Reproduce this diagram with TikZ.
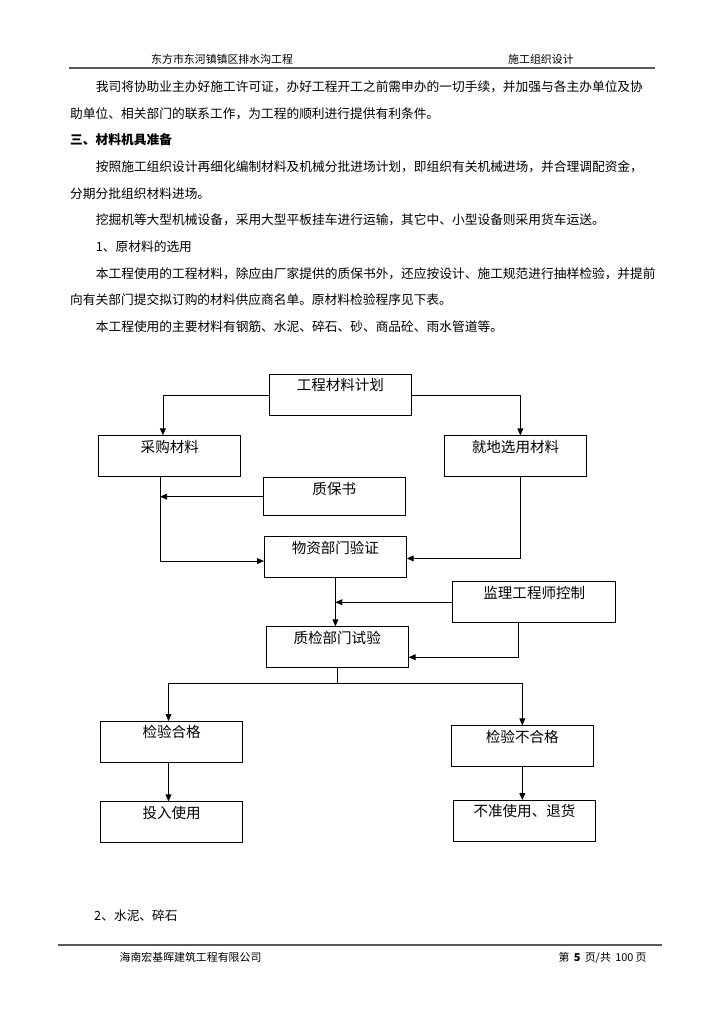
\documentclass[tikz,border=0pt]{standalone}
\usepackage{fontspec}
\setmainfont{Noto Sans CJK SC}
\usetikzlibrary{arrows.meta}
\tikzset{
  stepbox/.style={draw, line width=0.7pt, anchor=north, minimum width=41.2mm,
    inner xsep=0pt, inner ysep=0pt, text height=4.8mm, text depth=7.1mm,
    font=\fontsize{12pt}{14pt}\selectfont},
  flow/.style={draw, line width=0.6pt, -{Triangle[length=2mm,width=1.7mm]}},
  bodytxt/.style={anchor=west, inner sep=0pt, text height=0.88em, text depth=0.12em,
    font=\fontsize{10.5pt}{12pt}\selectfont},
  smalltxt/.style={anchor=west, inner sep=0pt, text height=0.88em, text depth=0.12em,
    font=\fontsize{9pt}{11pt}\selectfont},
  rule/.style={draw=black!65, line width=1.2pt}
}
\begin{document}
\begin{tikzpicture}[x=0.29006mm, y=-0.29006mm]
\useasboundingbox (0,0) rectangle (724,1024);

\node[smalltxt] (hleft) at (151,59.3) {东方市东河镇镇区排水沟工程};
\node[smalltxt] (hright) at (508,59.3) {施工组织设计};
\draw[rule] (69,68) -- (655,68);

\foreach \yy/\xx/\txt in {
  86.7/95.6/{我司将协助业主办好施工许可证，办好工程开工之前需申办的一切手续，并加强与各主办单位及协},
  113.4/70/{助单位、相关部门的联系工作，为工程的顺利进行提供有利条件。},
  140/70/{\textbf{三、材料机具准备}},
  166.7/95.6/{按照施工组织设计再细化编制材料及机械分批进场计划，即组织有关机械进场，并合理调配资金，},
  193.4/70/{分期分批组织材料进场。},
  220/95.6/{挖掘机等大型机械设备，采用大型平板挂车进行运输，其它中、小型设备则采用货车运送。},
  246.7/95.6/{1、原材料的选用},
  273.4/95.6/{本工程使用的工程材料，除应由厂家提供的质保书外，还应按设计、施工规范进行抽样检验，并提前},
  300/70/{向有关部门提交拟订购的材料供应商名单。原材料检验程序见下表。},
  326.7/95.6/{本工程使用的主要材料有钢筋、水泥、碎石、砂、商品砼、雨水管道等。},
  916/94/{2、水泥、碎石}} {
  \node[bodytxt] at (\xx,\yy) {\txt};
}

\node[stepbox] (plan) at (340.4,374) {工程材料计划};
\node[stepbox] (buy) at (169.8,435.3) {采购材料};
\node[stepbox] (local) at (515.5,435.3) {就地选用材料};
\node[stepbox, text depth=6.2mm] (cert) at (334.3,477.3) {质保书};
\node[stepbox] (wz) at (335.4,536.3) {物资部门验证};
\node[stepbox, minimum width=47.3mm] (jl) at (534.3,581.3) {监理工程师控制};
\node[stepbox] (zj) at (337.2,626.3) {质检部门试验};
\node[stepbox] (ok) at (171.6,721) {检验合格};
\node[stepbox] (fail) at (522.3,725.3) {检验不合格};
\node[stepbox] (use) at (171.6,801.3) {投入使用};
\node[stepbox] (ret) at (524.5,800) {不准使用、退货};

\coordinate (b1) at ([xshift=-2.8mm]buy.south);
\coordinate (j) at ([yshift=-4.4mm]zj.south);

\draw[flow] (plan.west) -| ([xshift=-2mm]buy.north);
\draw[flow] (plan.east) -| ([xshift=1.4mm]local.north);
\draw[flow] (b1) |- ([yshift=-1.1mm]wz.west);
\draw[flow] (cert.west) -- (cert.west -| b1);
\draw[flow] ([xshift=1.4mm]local.south) |- ([yshift=-0.35mm]wz.east);
\draw[flow] (wz.south) -- (wz.south |- zj.north);
\draw[flow] (jl.west) -- (jl.west -| wz.south);
\draw[flow] ([xshift=-4.5mm]jl.south) |- ([yshift=-2.9mm]zj.east);
\draw[line width=0.6pt] (zj.south) -- (j);
\draw[flow] (j) -| ([xshift=-0.9mm]ok.north);
\draw[flow] (j) -| (fail.north);
\draw[flow] ([xshift=-0.9mm]ok.south) -- ([xshift=-0.9mm]use.north);
\draw[flow] (fail.south) -- (fail.south |- ret.north);

\draw[rule] (58,945) -- (662,945);
\node[smalltxt] (fleft) at (119.4,956.5) {海南宏基晖建筑工程有限公司};
\node[smalltxt] (fright) at (558.3,956.5) {第\hspace{0.4em}\textbf{5}\hspace{0.4em}页/共\hspace{0.4em}100\hspace{0.2em}页};
\end{tikzpicture}
\end{document}
